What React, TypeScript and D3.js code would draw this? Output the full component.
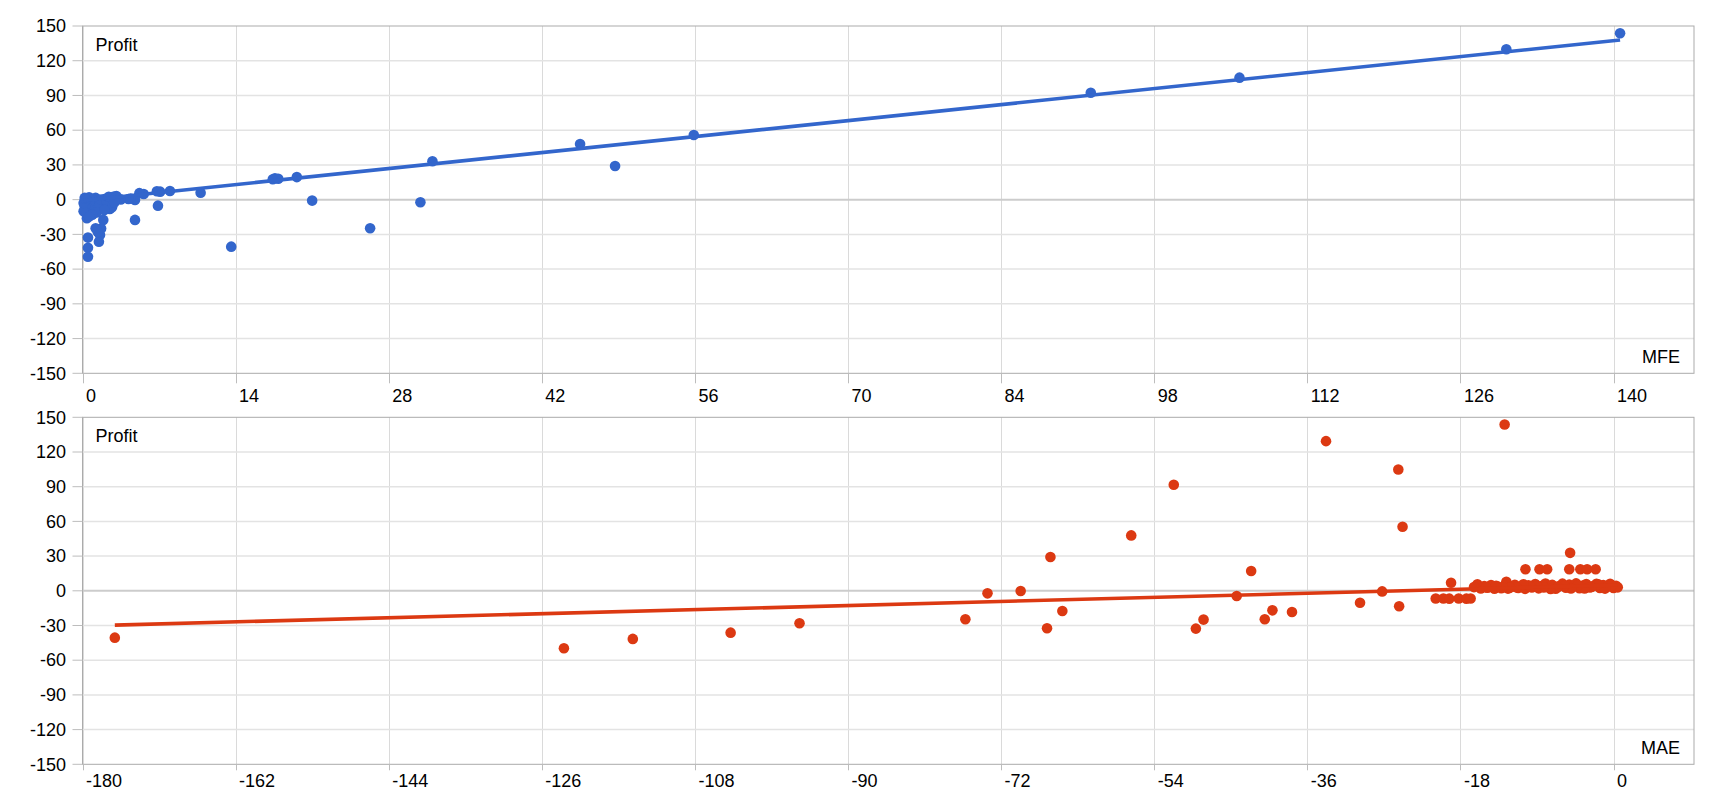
import React from 'react';
import * as d3 from 'd3';

// axis ticks
const mfeTicks = [0, 14, 28, 42, 56, 70, 84, 98, 112, 126, 140];
const maeTicks = [-180, -162, -144, -126, -108, -90, -72, -54, -36, -18, 0];
const profitTicks = [-150, -120, -90, -60, -30, 0, 30, 60, 90, 120, 150];

// [MFE, Profit]
const mfePoints: [number, number][] = [
  [140.6, 143.7], [130.2, 129.9], [105.8, 105.4], [92.2, 92.4], [55.9, 55.9],
  [45.5, 48.1], [48.7, 29.1], [32.0, 33.2], [30.9, -2.2], [26.3, -24.7],
  [21.0, -0.8], [19.6, 19.5], [17.6, 18.4], [17.9, 18.0], [17.4, 17.6],
  [13.6, -40.6], [10.8, 6.0], [8.0, 7.5], [7.1, 6.9], [6.8, 7.3], [6.9, -5.2],
  [5.6, 4.9], [5.2, 5.6], [4.8, -17.5], [4.8, -0.3], [4.4, 1.0], [4.2, 0.6], [3.5, 0.2],
  [3.0, 2.6], [2.8, 2.4], [2.6, 1.0], [2.5, -8.0], [2.3, -3.5], [2.1, -6.5],
  [2.0, 0.5], [1.9, -17.5], [1.8, -2.0], [1.7, -25.0], [1.6, -30.5], [1.5, -36.3],
  [1.4, -28.0], [1.3, -4.5], [1.2, -24.7], [1.2, 1.5], [1.1, -1.0], [1.0, -7.5],
  [0.9, -3.0], [0.8, 0.8], [0.8, -9.5], [0.7, -5.5], [0.6, 2.0], [0.6, -2.0],
  [0.5, -32.8], [0.5, -41.5], [0.5, -49.3], [0.4, -16.0], [0.4, -12.0], [0.3, -8.0],
  [0.3, -4.0], [0.3, 0.5], [0.2, -1.5], [0.2, -6.0], [0.1, -10.0], [0.1, -3.0],
  [0.2, 1.5], [1.5, -7.0], [1.7, 0.0], [2.2, -1.0], [2.7, -6.5], [2.4, 2.5],
  [1.3, -11.0], [0.9, -13.0], [2.0, -9.0], [0.6, -14.5], [3.1, 3.2], [2.9, -2.5],
];

// [MAE, Profit]
const maePoints: [number, number][] = [
  [-176.2, -40.5], [-123.4, -49.7], [-115.3, -41.6], [-103.8, -36.2], [-95.7, -28.1],
  [-76.2, -24.6], [-73.6, -2.2], [-69.7, -0.2], [-66.2, 29.2], [-66.6, -32.4],
  [-64.8, -17.4], [-56.7, 47.9], [-51.7, 91.7], [-49.1, -32.7], [-48.2, -24.9],
  [-44.3, -4.5], [-42.6, 17.1], [-41.0, -24.6], [-40.1, -16.9], [-37.8, -18.3],
  [-33.8, 129.4], [-29.8, -10.3], [-27.2, -0.5], [-25.3, 104.9], [-24.8, 55.4],
  [-25.2, -13.4], [-19.1, 7.0], [-20.9, -6.6], [-20.0, -6.6], [-19.3, -6.8],
  [-18.2, -6.6], [-17.3, -6.8], [-16.8, -6.6], [-16.0, 5.6], [-12.8, 143.8],
  [-10.35, 18.6], [-8.7, 18.6], [-7.8, 18.6], [-5.2, 18.6], [-3.9, 18.6], [-3.1, 18.6],
  [-2.1, 18.6], [-5.1, 32.8], [-12.6, 7.8],
  [-16.4, 3.2], [-15.6, 2.0], [-15.2, 4.1], [-14.8, 2.6], [-14.4, 5.0], [-14.0, 1.8],
  [-13.6, 3.6], [-13.2, 2.2], [-12.8, 4.6], [-12.4, 1.9], [-12.0, 3.4], [-11.6, 5.2],
  [-11.2, 2.4], [-10.8, 3.9], [-10.4, 1.7], [-10.0, 4.8], [-9.6, 2.9], [-9.2, 5.9],
  [-8.8, 2.1], [-8.4, 4.3], [-8.0, 6.3], [-7.6, 3.0], [-7.2, 5.1], [-6.8, 1.8],
  [-6.4, 4.0], [-6.0, 6.2], [-5.6, 2.7], [-5.2, 5.3], [-4.8, 3.5], [-4.4, 6.4],
  [-4.0, 2.2], [-3.6, 4.6], [-3.2, 5.8], [-2.8, 2.9], [-2.4, 4.1], [-2.0, 6.1],
  [-1.6, 2.4], [-1.2, 5.0], [-0.8, 3.3], [-0.4, 6.0], [0.0, 2.5], [0.3, 4.4],
  [0.5, 3.0], [-0.2, 4.8], [-1.0, 1.9], [-1.8, 5.6], [-2.6, 3.3], [-3.4, 2.0],
  [-4.2, 4.9], [-5.0, 2.0], [-5.8, 4.4], [-6.6, 3.0], [-7.4, 1.6], [-8.2, 2.8],
  [-9.0, 4.1], [-9.8, 3.7], [-10.6, 5.6], [-11.4, 3.0], [-12.2, 2.7], [-13.0, 3.0],
  [-13.8, 4.4], [-15.0, 3.0],
];

// linear trendlines [slope, intercept]
const mfeTrend = [0.987, -0.8];
const maeTrend = [0.196, 4.9];

const FONT = 'Liberation Sans, Arial, sans-serif';
const LEFT = 82.5;
const RIGHT = 1694;

interface PanelProps {
  points: [number, number][];
  xTicks: number[];
  trend: number[];
  color: string;
  xTitle: string;
  top: number;
  bottom: number;
  labelY: number;
  tickLen: number;
}

const Panel: React.FC<PanelProps> = ({ points, xTicks, trend, color, xTitle, top, bottom, labelY, tickLen }) => {
  const x = d3.scaleLinear()
    .domain([xTicks[0], xTicks[xTicks.length - 1]])
    .range([LEFT, 1613.5]);
  const y = d3.scaleLinear().domain([-150, 150]).range([bottom, top]);

  const [xmin, xmax] = d3.extent(points, d => d[0]) as [number, number];
  const trendPath = d3.line<number>()
    .x(v => x(v))
    .y(v => y(trend[0] * v + trend[1]))([xmin, xmax]);

  return (
    <g>
      {xTicks.map(t => (
        <line key={'vx' + t} x1={Math.round(x(t)) + 0.5} x2={Math.round(x(t)) + 0.5} y1={top} y2={bottom}
          stroke="#dadada" strokeWidth={1} />
      ))}
      {profitTicks.filter(t => t !== 0 && t !== 150 && t !== -150).map(t => (
        <line key={'hy' + t} x1={LEFT} x2={RIGHT} y1={y(t)} y2={y(t)} stroke="#e3e3e3" strokeWidth={1.5} />
      ))}
      <line x1={LEFT} x2={RIGHT} y1={y(0)} y2={y(0)} stroke="#cccccc" strokeWidth={2} />
      <rect x={LEFT} y={top} width={RIGHT - LEFT} height={bottom - top} fill="none" stroke="#ababab" strokeWidth={1} />

      {profitTicks.map(t => (
        <g key={'ty' + t}>
          <line x1={LEFT - 10} x2={LEFT} y1={y(t)} y2={y(t)} stroke="#bdbdbd" strokeWidth={1} />
          <text x={66} y={y(t) + 6.2} textAnchor="end" fontFamily={FONT} fontSize={18} fill="#000">{t}</text>
        </g>
      ))}
      {xTicks.map(t => (
        <g key={'tx' + t}>
          <line x1={Math.round(x(t)) + 0.5} x2={Math.round(x(t)) + 0.5} y1={bottom} y2={bottom + tickLen}
            stroke="#bdbdbd" strokeWidth={1} />
          <text x={x(t) + 3.5} y={labelY} fontFamily={FONT} fontSize={18} fill="#000">{t}</text>
        </g>
      ))}

      <text x={95.5} y={top + 24.7} fontFamily={FONT} fontSize={18} fill="#000">Profit</text>
      <text x={1680} y={bottom - 10} textAnchor="end" fontFamily={FONT} fontSize={18} fill="#000">{xTitle}</text>

      {points.map((d, i) => (
        <circle key={i} cx={x(d[0])} cy={y(d[1])} r={5.3} fill={color} />
      ))}
      <path d={trendPath ?? ''} fill="none" stroke={color} strokeWidth={3.6} />
    </g>
  );
};

export default function App() {
  return (
    <svg width={1720} height={800} style={{ position: 'absolute', left: 0, top: 0, background: '#fff' }}>
      <rect width={1720} height={800} fill="#fff" />
      <Panel points={mfePoints} xTicks={mfeTicks} trend={mfeTrend} color="#3366cc" xTitle="MFE"
        top={26} bottom={373.3} labelY={401.7} tickLen={10} />
      <Panel points={maePoints} xTicks={maeTicks} trend={maeTrend} color="#dc3912" xTitle="MAE"
        top={417.3} bottom={764.3} labelY={787.3} tickLen={6} />
    </svg>
  );
}
